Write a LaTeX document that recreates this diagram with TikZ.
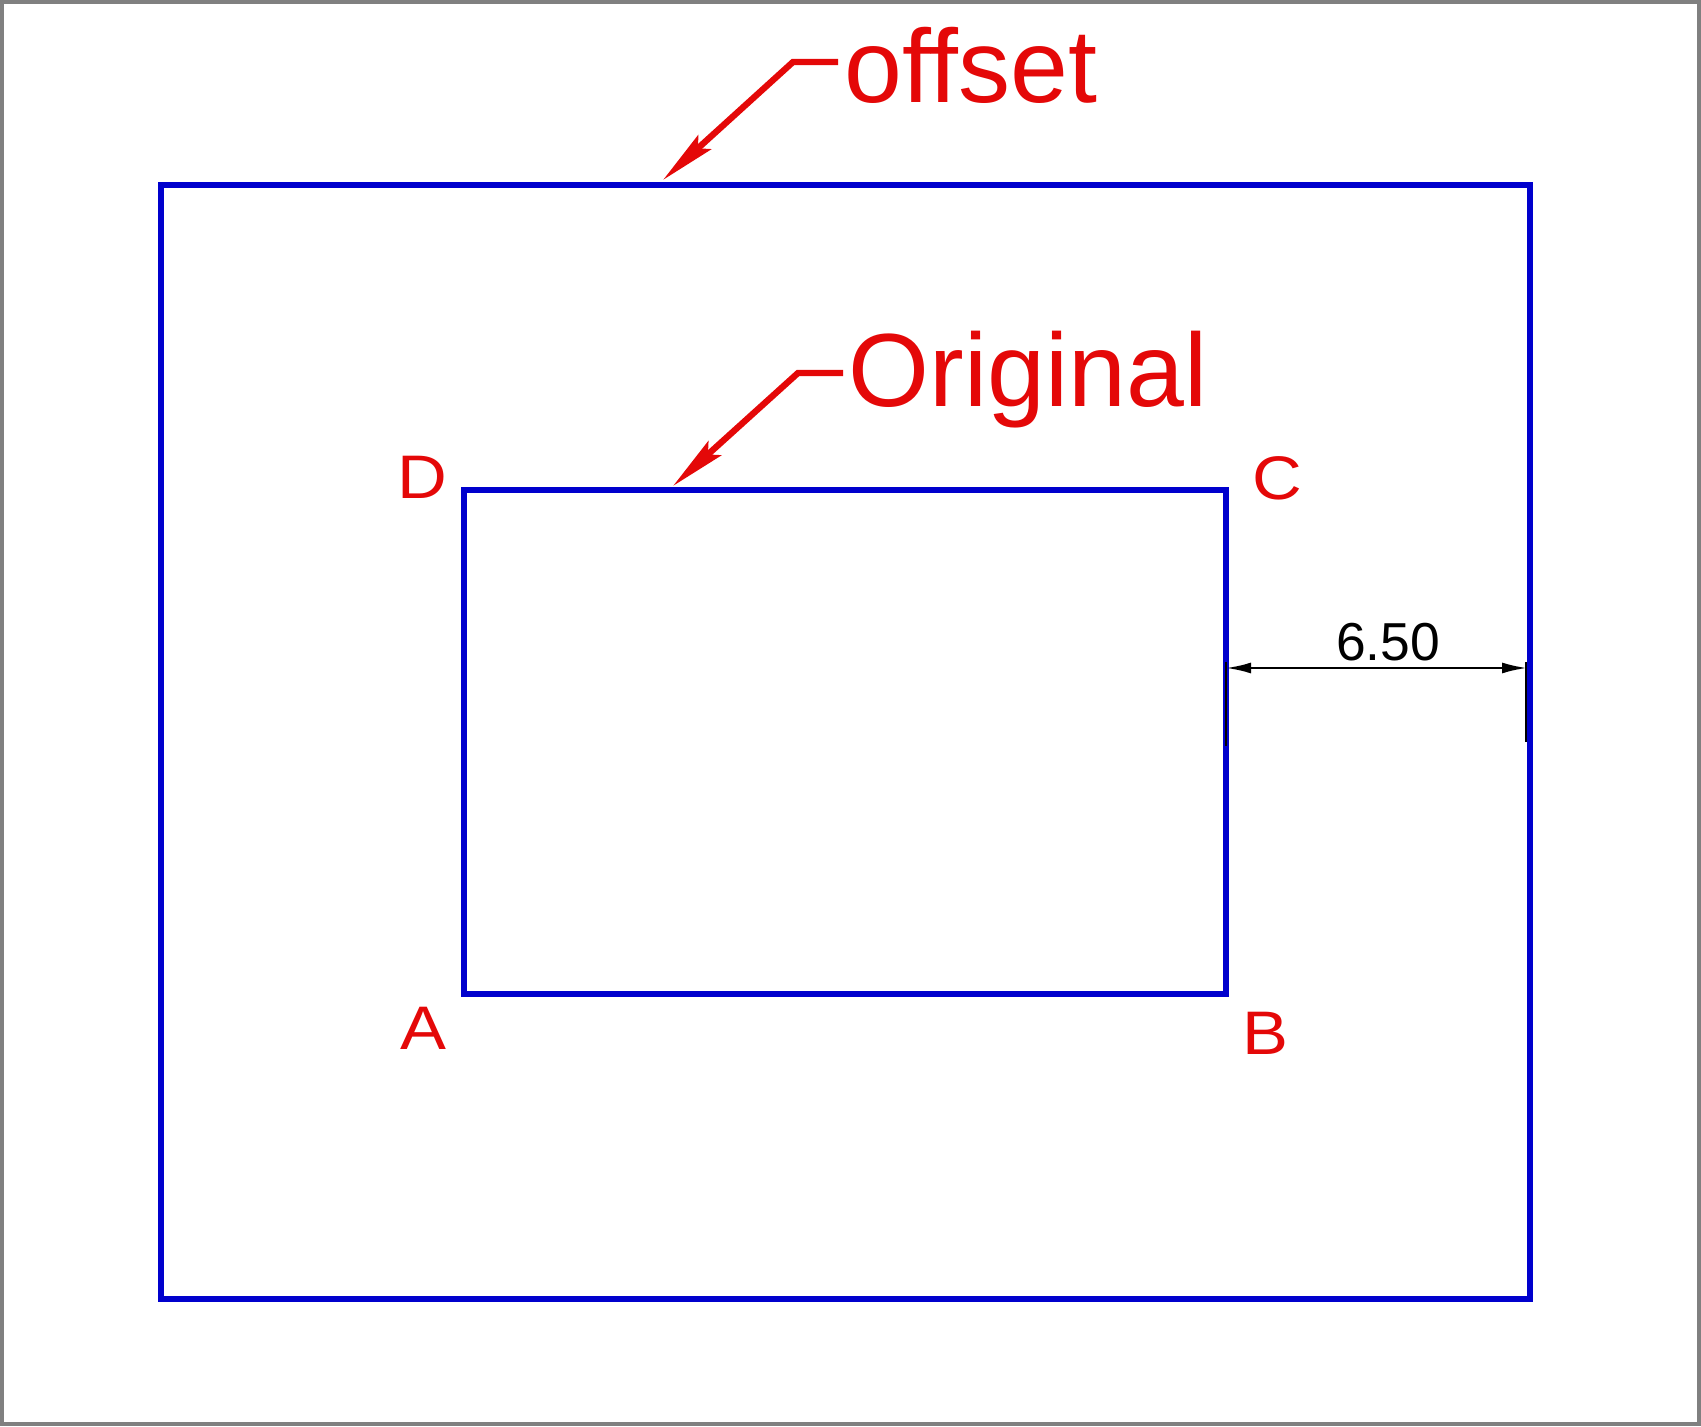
\documentclass[tikz,border=0pt]{standalone}
\usepackage{fontspec}
\setmainfont{Liberation Sans}
\usetikzlibrary{calc,arrows.meta}
\definecolor{cadblue}{RGB}{0,0,205}
\definecolor{cadred}{RGB}{228,8,8}
\tikzset{
	outline/.style={line width=1.5pt, color=cadblue},
	leader/.style={line width=1.8pt, color=cadred, -{Stealth[length=5.6mm, width=1.9mm, inset=0.9mm]}},
	calltext/.style={color=cadred, inner sep=0pt, anchor=base west, font=\fontsize{29.6}{32}\selectfont},
	cornertext/.style={color=cadred, inner sep=0pt, font=\fontsize{17.5}{19}\selectfont},
	dimline/.style={line width=0.7pt, {Latex[length=2.5mm, width=1.1mm]}-{Latex[length=2.5mm, width=1.1mm]}}
}

\begin{document}
\begin{tikzpicture}
		%%%%% START %%%%%
		
		\useasboundingbox (0, 0) rectangle (17.01, 14.26);
		\draw[line width=1.1pt, color=black!50] (0.02, 0.02) rectangle (16.99, 14.24);
		
		\draw[outline] (1.61, 1.27) rectangle (15.30, 12.41);
		\draw[outline] (4.64, 4.32) rectangle (12.26, 9.36);
		
		\node[cornertext] (D) at (4.22, 9.49) {\scalebox{1.12}[1]{D}};
		\node[cornertext] (C) at (12.77, 9.48) {\scalebox{1.12}[1]{C}};
		\node[cornertext] (A) at (4.23, 3.98) {\scalebox{1.12}[1]{A}};
		\node[cornertext] (B) at (12.65, 3.93) {\scalebox{1.12}[1]{B}};
		
		\node[calltext] (offset) at (8.44, 13.23) {offset};
		\coordinate (offsetend) at (8.38, 13.64);
		\coordinate (offsettip) at (6.63, 12.46);
		\draw[leader] (offsetend) -- (7.93, 13.64) -- (offsettip);
		
		\node[calltext] (original) at (8.48, 10.19) {Original};
		\coordinate (originalend) at (8.43, 10.53);
		\coordinate (originaltip) at (6.73, 9.40);
		\draw[leader] (originalend) -- (7.98, 10.53) -- (originaltip);
		
		\coordinate (dimleft) at (12.26, 7.58);
		\coordinate (dimright) at (15.27, 7.58);
		\draw[line width=0.8pt] (12.26, 7.64) -- (12.26, 6.80);
		\draw[line width=0.8pt] (15.26, 7.64) -- (15.26, 6.84);
		\draw[dimline] (dimleft) -- (dimright);
		\node[inner sep=0pt, font=\fontsize{15.2}{16}\selectfont] (dimtext) at (13.88, 7.84) {6.50};
		
		%%%%% END %%%%%
	\end{tikzpicture}
\end{document}
